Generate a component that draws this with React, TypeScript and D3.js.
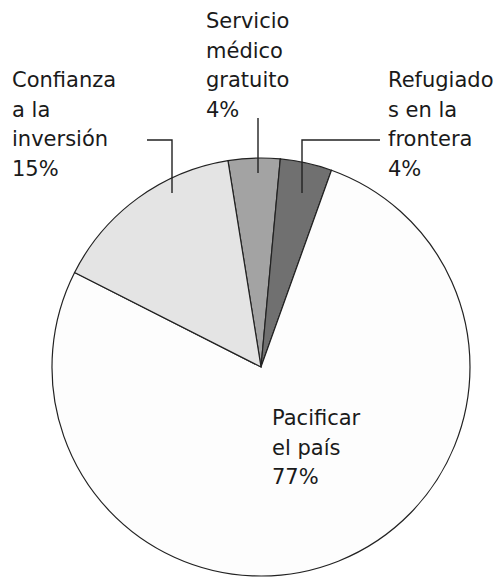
import React from 'react';
import * as d3 from 'd3';

// DATA
const categories = ['Servicio médico gratuito', 'Refugiados en la frontera', 'Pacificar el país', 'Confianza a la inversión'];
const values = [4, 4, 77, 15];
const fills = ['#a3a3a3', '#707070', '#fdfdfd', '#e4e4e4'];

// label text as printed (line breaks from the original)
const labelLines = [
  ['Servicio', 'médico', 'gratuito', '4%'],
  ['Refugiado', 's en la', 'frontera', '4%'],
  ['Pacificar', 'el país', '77%'],
  ['Confianza', 'a la', 'inversión', '15%'],
];

const w = 498,
  h = 577;
const cx = 261,
  cy = 367,
  r = 209;
const lineH = 29.5;

// label layout: text origin (first baseline) and optional leader polyline
const labelLayout = [
  { x: 206, y: 28, leader: [[258, 118], [258, 173]] },
  { x: 388, y: 87, leader: [[380, 140], [302, 140], [302, 193]] },
  { x: 272, y: 425, leader: null },
  { x: 12, y: 87, leader: [[147, 140], [172, 140], [172, 193]] },
];

export default function App() {
  const startDeg = -9.1;
  const pie = d3
    .pie<number>()
    .sort(null)
    .startAngle((startDeg * Math.PI) / 180)
    .endAngle((startDeg * Math.PI) / 180 + 2 * Math.PI);
  const arcs = pie(values);
  const arc = d3.arc<d3.PieArcDatum<number>>().innerRadius(0).outerRadius(r);
  const line = d3.line();

  return (
    <svg
      width={w}
      height={h}
      style={{ position: 'absolute', left: 0, top: 0, background: '#fff' }}
      fontFamily="'DejaVu Sans', sans-serif"
    >
      <g transform={`translate(${cx},${cy})`}>
        {arcs.map((a, i) => (
          <path key={categories[i]} d={arc(a) || ''} fill={fills[i]} stroke="#222" strokeWidth={1.2} />
        ))}
      </g>
      {labelLayout.map((l, i) => (
        <g key={categories[i]}>
          {l.leader && (
            <path d={line(l.leader as [number, number][]) || ''} fill="none" stroke="#222" strokeWidth={1.4} />
          )}
          <text x={l.x} y={l.y} fontSize={21} fill="#1a1a1a">
            {labelLines[i].map((t, j) => (
              <tspan key={j} x={l.x} y={l.y + j * lineH}>
                {t}
              </tspan>
            ))}
          </text>
        </g>
      ))}
    </svg>
  );
}
